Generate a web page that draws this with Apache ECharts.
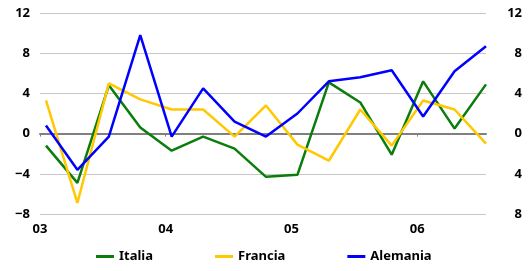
<!DOCTYPE html>
<html>
<head>
<meta charset="utf-8">
<script src="https://cdn.jsdelivr.net/npm/echarts@6/dist/echarts.min.js"></script>
<style>
html, body { margin: 0; padding: 0; background: #fff; }
#main { width: 529px; height: 271px; }
</style>
</head>
<body>
<div id="main"></div>
<script>
// quarterly data, 2003 Q1 .. 2006 Q3
var yearLabels = ['03', '04', '05', '06'];
var italia   = [-1.2, -4.9, 4.8, 0.6, -1.7, -0.3, -1.5, -4.3, -4.1, 5.1, 3.1, -2.1, 5.2, 0.5, 4.9];
var francia  = [3.3, -6.9, 5.0, 3.4, 2.4, 2.4, -0.3, 2.8, -1.1, -2.7, 2.4, -1.2, 3.3, 2.4, -1.0];
var alemania = [0.8, -3.6, -0.3, 9.8, -0.3, 4.5, 1.2, -0.3, 2.0, 5.2, 5.6, 6.3, 1.7, 6.2, 8.7];

// quarter points sit a little after the year tick
var qOffset = 0.19;
function pts(arr) {
  return arr.map(function (v, i) { return [i + qOffset, v]; });
}

var font = { fontFamily: 'Noto Sans', fontWeight: 'bold', fontSize: 13, color: '#000' };

var chart = echarts.init(document.getElementById('main'));
chart.setOption({
  animation: false,
  backgroundColor: '#fff',
  grid: { left: 40, right: 43, top: 13, bottom: 57 },
  legend: {
    left: 96, top: 250, padding: 0,
    itemWidth: 18, itemHeight: 3, itemGap: 62,
    icon: 'rect',
    textStyle: font,
    data: ['Italia', 'Francia', 'Alemania']
  },
  xAxis: [{
    type: 'value', min: 0, max: 14.19, interval: 4,
    position: 'bottom',
    axisLine: { show: false, onZero: false },
    axisTick: { show: false },
    splitLine: { show: false },
    axisLabel: Object.assign({
      margin: 9,
      customValues: [0, 4, 8, 12],
      formatter: function (v) { return yearLabels[Math.round(v / 4)] || ''; }
    }, font)
  }, {
    type: 'value', min: 0, max: 14.19, interval: 4,
    position: 'top',
    axisLine: { show: true, onZero: true, lineStyle: { color: '#808080', width: 2 } },
    axisTick: { show: true, inside: true, length: 3, customValues: [0, 4, 8, 12], lineStyle: { color: '#808080', width: 1 } },
    axisLabel: { show: false },
    splitLine: { show: false }
  }],
  yAxis: [{
    type: 'value', min: -8, max: 12, interval: 4,
    position: 'left',
    axisLine: { show: false },
    axisTick: { show: false },
    splitLine: { show: true, lineStyle: { color: '#c8c8c8', width: 1 } },
    axisLabel: Object.assign({
      margin: 10,
      formatter: function (v) { return String(v).replace('-', '\u2212'); }
    }, font)
  }, {
    type: 'value', min: -8, max: 12, interval: 4,
    position: 'right',
    axisLine: { show: false },
    axisTick: { show: false },
    splitLine: { show: false },
    axisLabel: Object.assign({
      margin: 36, align: 'right',
      formatter: function (v) { return String(Math.abs(v)); }
    }, font)
  }],
  series: [
    { name: 'Italia', type: 'line', data: pts(italia), showSymbol: false, color: '#0a7d0a', lineStyle: { width: 2.5 } },
    { name: 'Francia', type: 'line', data: pts(francia), showSymbol: false, color: '#ffc800', lineStyle: { width: 2.5 } },
    { name: 'Alemania', type: 'line', data: pts(alemania), showSymbol: false, color: '#0000ff', lineStyle: { width: 2.5 } }
  ]
});
</script>
</body>
</html>
